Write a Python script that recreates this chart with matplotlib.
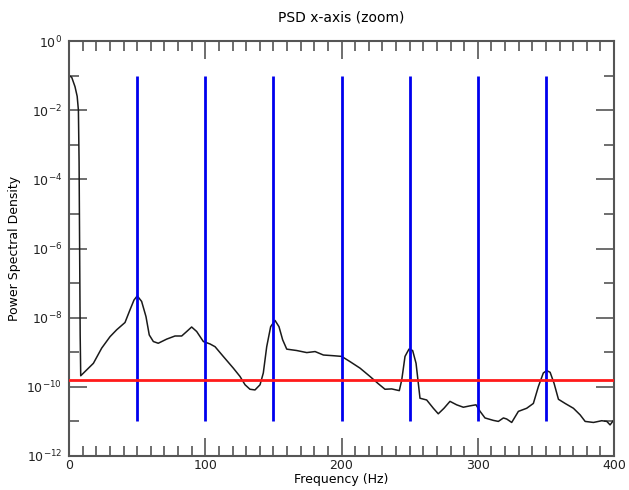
import matplotlib
matplotlib.use("Agg")
import matplotlib.pyplot as plt
import numpy as np
from matplotlib.ticker import LogFormatterSciNotation, MultipleLocator, NullFormatter, FixedLocator

# PSD curve (frequency in Hz, log10 of power spectral density)
freq = [0, 2, 4.4, 6.0, 6.9, 7.4, 7.8, 8.2, 8.6, 11.7, 17.9, 24, 30.1, 35, 41.1, 44.8, 47.7, 50.1,
        53.3, 56.5, 58.9, 61.9, 65.5, 71.7, 77.8, 82.7, 86.4, 90, 93.7, 98.6, 103.5, 107.2,
        113.2, 120.6, 125.5, 129.2, 132.8, 136.5, 140.2, 142.6, 145.1, 148, 151.2, 154.1,
        156.8, 159.8, 167.1, 174.5, 180.6, 186.7, 194, 200.1, 206.2, 213.6, 220.9, 227,
        231.9, 236.8, 242.4, 244.2, 246.6, 249.5, 252.2, 254.7, 257.6, 262.5, 267.4, 271,
        275.2, 279.6, 284.5, 289.4, 294.3, 298.7, 301.7, 305.3, 311.4, 315.1, 318.8, 321.2,
        324.9, 329.8, 335.9, 340.8, 344.5, 348.1, 350.6, 353.1, 356, 359.2, 364.1, 370.2,
        375.1, 378.8, 384.9, 391, 394.7, 397.1, 400]
log_psd = [-1.0, -1.05, -1.32, -1.6, -2.0, -3.5, -6.0, -8.5, -9.68, -9.56, -9.32, -8.88, -8.55,
           -8.35, -8.14, -7.77, -7.49, -7.37, -7.53, -7.97, -8.50, -8.69, -8.74, -8.62, -8.53,
           -8.53, -8.40, -8.27, -8.40, -8.69, -8.76, -8.84, -9.12, -9.46, -9.70, -9.94, -10.07,
           -10.09, -9.94, -9.60, -8.84, -8.26, -8.08, -8.26, -8.64, -8.91, -8.95, -9.01, -8.98,
           -9.08, -9.10, -9.12, -9.27, -9.46, -9.70, -9.91, -10.07, -10.06, -10.11, -9.80,
           -9.12, -8.91, -8.95, -9.32, -10.33, -10.38, -10.62, -10.78, -10.62, -10.42, -10.52,
           -10.59, -10.55, -10.52, -10.71, -10.90, -10.97, -11.00, -10.90, -10.93, -11.03,
           -10.71, -10.62, -10.48, -9.99, -9.60, -9.53, -9.58, -9.90, -10.36, -10.48, -10.62,
           -10.81, -11.00, -11.03, -10.98, -11.00, -11.10, -10.95]

# Harmonic markers (Hz) and their vertical extent
harmonics = [50, 100, 150, 200, 250, 300, 350]
harm_low = 1e-11
harm_high = 1e-1

# Threshold level
threshold = 1.6e-10

fig = plt.figure(figsize=(6.29, 4.90), dpi=100)
ax = fig.add_axes([0.1097, 0.0694, 0.8665, 0.8469])

psd = 10 ** np.array(log_psd)
ax.plot(freq, psd, color="#1a1a1a", lw=1.1, zorder=2)
ax.vlines(harmonics, harm_low, harm_high, color="#0000ee", lw=2.0, zorder=3)
ax.axhline(threshold, color="#ff1a1a", lw=2.0, zorder=4)

ax.set_yscale("log")
ax.set_xlim(0, 400)
ax.set_ylim(1e-12, 1e0)

ax.xaxis.set_major_locator(MultipleLocator(100))
ax.xaxis.set_minor_locator(MultipleLocator(10))
ax.yaxis.set_major_locator(FixedLocator([10.0 ** e for e in range(-12, 1, 2)]))
ax.yaxis.set_minor_locator(FixedLocator([10.0 ** e for e in range(-11, 0, 2)]))
ax.yaxis.set_major_formatter(LogFormatterSciNotation())
ax.yaxis.set_minor_formatter(NullFormatter())

edge = "#555555"
for s in ax.spines.values():
    s.set_color(edge)
    s.set_linewidth(1.5)
ax.tick_params(axis="both", which="major", direction="in", top=True, right=True, color=edge,
               width=1.2, length=13, labelsize=9, labelcolor="#222222")
ax.tick_params(axis="both", which="minor", direction="in", top=True, right=True, color=edge,
               width=1.2, length=7)
ax.tick_params(axis="x", which="major", pad=2)
ax.tick_params(axis="y", which="major", pad=5)

ax.set_title("PSD x-axis (zoom)", fontsize=10, pad=14)
ax.set_xlabel("Frequency (Hz)", fontsize=9, labelpad=1)
ax.set_ylabel("Power Spectral Density", fontsize=9, labelpad=4)

fig.savefig("out.png", dpi=100)
